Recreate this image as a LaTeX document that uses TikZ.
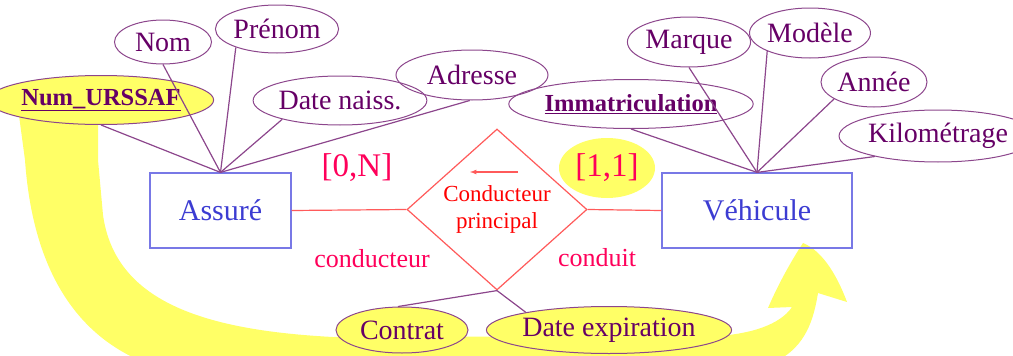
\documentclass[tikz,border=0pt]{standalone}
\usepackage{fontspec}
\setmainfont{Liberation Serif}
\usepackage{tikz}
\usetikzlibrary{arrows}
\usetikzlibrary{shapes.geometric}
\usetikzlibrary{positioning}

\definecolor{attrline}{RGB}{140,70,140}
\definecolor{attrtext}{RGB}{102,0,102}
\definecolor{entline}{RGB}{120,120,230}
\definecolor{enttext}{RGB}{60,60,210}
\definecolor{assocline}{RGB}{255,90,90}
\definecolor{assoctext}{RGB}{255,0,0}
\definecolor{cardtext}{RGB}{255,0,90}
\definecolor{hl}{RGB}{255,255,102}

\tikzset{
	attr/.style={ellipse,draw=attrline,line width=1pt,text=attrtext,inner sep=0pt,font=\fontsize{28}{30}\selectfont},
	keyattr/.style={attr,font=\fontsize{24.5}{27}\selectfont\bfseries},
	entity/.style={rectangle,draw=entline,line width=1.2pt,text=enttext,minimum height=75pt,font=\fontsize{30}{32}\selectfont},
	assoc/.style={diamond,draw=assocline,line width=1.2pt,text=assoctext,align=center,inner sep=0pt,minimum width=180pt,minimum height=161pt,font=\fontsize{23}{27}\selectfont},
	card/.style={text=cardtext,font=\fontsize{33}{35}\selectfont},
	role/.style={text=cardtext,font=\fontsize{26}{28}\selectfont},
	link/.style={attrline,line width=1.2pt},
	rel/.style={assocline,line width=1.2pt}
}

\begin{document}
\begin{tikzpicture}[x=1pt,y=-1pt]
	\useasboundingbox (0,0) rectangle (1013,356);
	\clip (0,0) rectangle (1013,356);

	% grosse fleche jaune
	\fill[hl] (18,108) -- (25,160) .. controls (32,260) and (70,340) .. (160,368) -- (760,368)
		.. controls (800,355) and (812,330) .. (818,293) -- (847,302)
		.. controls (835,270) and (820,250) .. (803,243)
		.. controls (795,255) and (780,280) .. (768,308) -- (792,307)
		.. controls (780,325) and (750,334) .. (717,336) -- (333,337)
		.. controls (200,330) and (115,300) .. (103,215) -- (98,160) -- (98,108) -- cycle;

	% entites
	\node[entity,minimum width=141pt] (assure) at (220.5,210.5) {Assuré};
	\node[entity,minimum width=190pt] (vehicule) at (757,210.5) {Véhicule};

	% attributs
	\node[keyattr,fill=hl,minimum width=186pt,minimum height=49pt] (numurssaf) at (101,100) {\underline{Num\_URSSAF}};
	\node[attr,minimum width=97pt,minimum height=44pt] (nom) at (163,42) {Nom};
	\node[attr,minimum width=113pt,minimum height=48pt] (prenom) at (277,29) {Prénom};
	\node[attr,minimum width=152pt,minimum height=49pt] (datenaiss) at (340,100.5) {Date naiss.};
	\node[attr,minimum width=152pt,minimum height=50pt] (adresse) at (472,75) {Adresse};

	\node[keyattr,minimum width=186pt,minimum height=49pt] (immat) at (631,104) {\underline{Immatriculation}};
	\node[attr,minimum width=106pt,minimum height=50pt] (marque) at (689,42) {Marque};
	\node[attr,minimum width=119pt,minimum height=50pt] (modele) at (810,33) {Modèle};
	\node[attr,minimum width=106pt,minimum height=50pt] (annee) at (874,82) {Année};
	\node[attr,minimum width=149pt,minimum height=52pt] (kilometrage) at (938,136) {Kilométrage};

	% association
	\node[assoc] (cp) at (497,209.5) {Conducteur\\principal};
	\node[attr,fill=hl,minimum width=132pt,minimum height=46pt] (contrat) at (402,330) {Contrat};
	\node[attr,fill=hl,minimum width=212pt,minimum height=47pt] (dateexp) at (609,330) {Date expiration};

	\foreach \a in {numurssaf.south,nom.south,prenom.204,datenaiss.198,adresse.265}
		\draw[link] (assure.north) -- (\a);
	\foreach \a in {immat.south,marque.south,modele.203,annee.203,kilometrage.198}
		\draw[link] (vehicule.north) -- (\a);
	\draw[link] (cp.south) -- (contrat.100);
	\draw[link] (cp.south) -- (dateexp.168);

	\draw[rel] (assure.east) -- (cp.west);
	\draw[rel] (cp.east) -- (vehicule.west);

	\coordinate (fl1) at (518,172);
	\coordinate (fl2) at (470,172);
	\draw[rel,-latex] (fl1) -- (fl2);

	% cardinalites et roles
	\node[card] (c1) at (357,168) {[0,N]};
	\node[card,ellipse,fill=hl,inner sep=0pt,minimum width=96pt,minimum height=60pt] (c2) at (607,168) {[1,1]};
	\node[role] (r1) at (372,259) {conducteur};
	\node[role] (r2) at (597,258) {conduit};
\end{tikzpicture}
\end{document}
